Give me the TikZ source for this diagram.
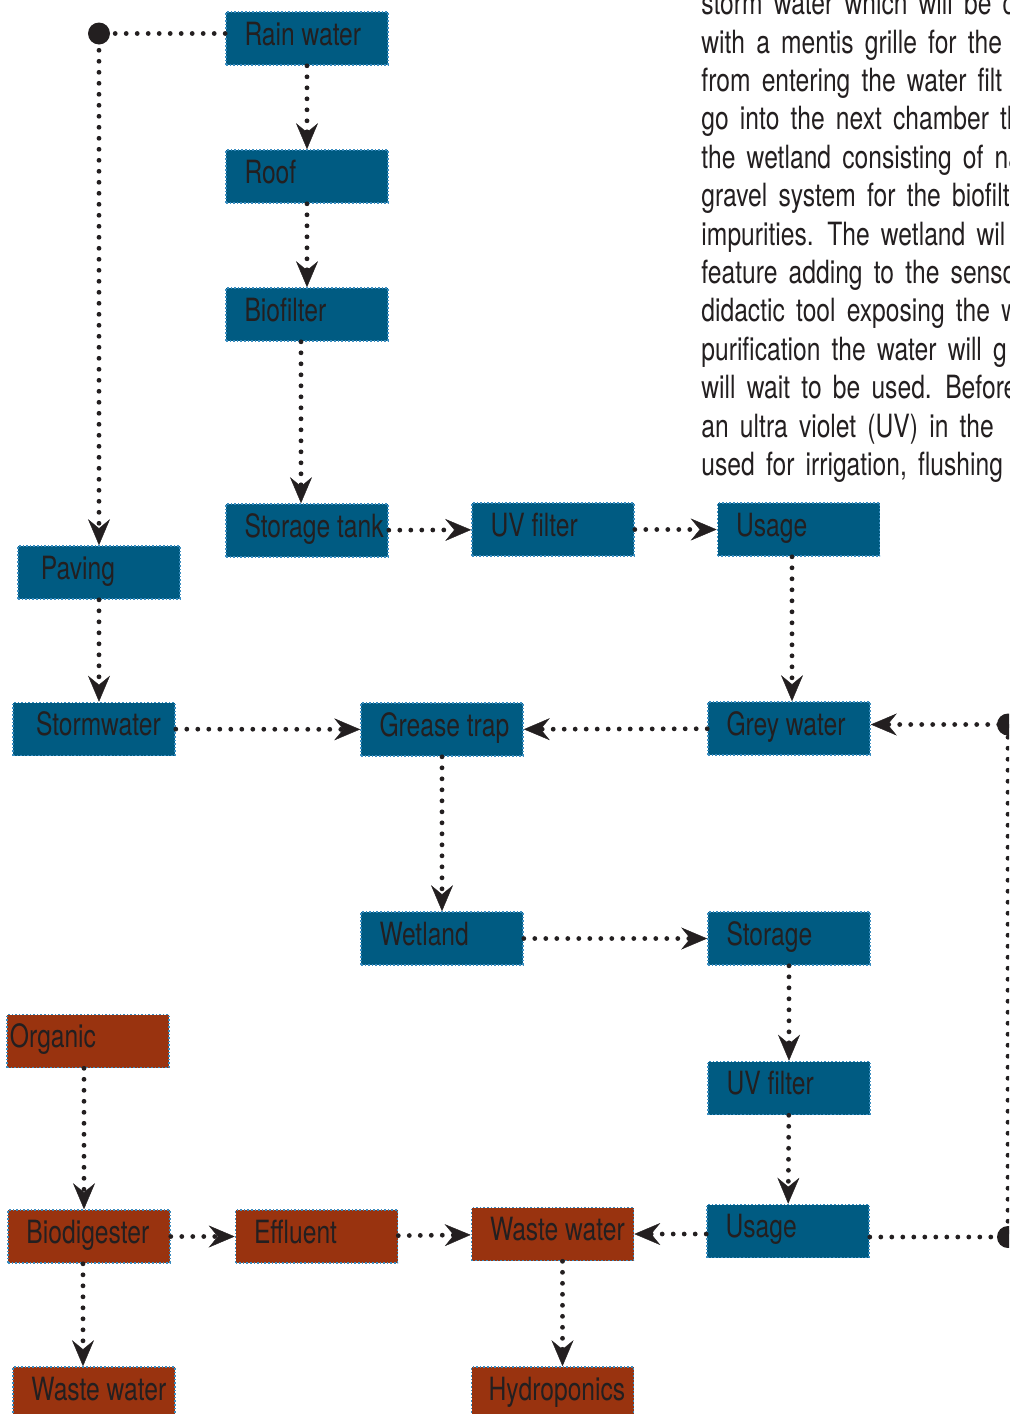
\documentclass[tikz,border=0pt]{standalone}
\usepackage{fontspec}
\setmainfont[FakeStretch=0.77]{TeX Gyre Heros}
\usetikzlibrary{arrows.meta}

\definecolor{waterblue}{HTML}{005B82}
\definecolor{wastered}{HTML}{99330F}
\definecolor{seam}{HTML}{3A8DC0}
\definecolor{ink}{HTML}{231F20}

% label inside a box: left indent, then the rest of the 81pt width
\newcommand{\boxtext}[2][9.25pt]{\hspace*{#1}\makebox[\dimexpr81pt-#1\relax][l]{#2}}

\begin{document}
\begin{tikzpicture}[x=0.5pt, y=-0.5pt, font=\fontsize{16}{19.2}\selectfont, text=ink]
\tikzstyle{waterbox} = [rectangle, fill=waterblue, draw=seam, densely dotted, line width=0.8pt, minimum width=81pt, minimum height=26.5pt, inner sep=0pt, text height=11pt, text depth=4.5pt]
\tikzstyle{wastebox} = [waterbox, fill=wastered]
\tikzstyle{pipe} = [draw=ink, line width=2.4pt, line cap=round, dash pattern=on 0pt off 5.5pt]
\tikzset{>={Stealth[length=13pt, width=11pt, inset=4.5pt, line width=0.2pt]}}

\path[use as bounding box] (0,0) rectangle (1009,1414);
\clip (0,0) rectangle (1009,1414);

% note text, cut off at the edge of the sheet
\foreach \words [count=\i from 0] in {storm water which will be c, with a mentis grille for the, from entering the water filt, go into the next chamber th, the wetland consisting of na, gravel system for the biofiltr, impurities. The wetland wil, feature adding to the senso, didactic tool exposing the w, purification the water will g, will wait to be used. Before, an ultra violet (UV) in the, {used for irrigation, flushing}}
  \node[anchor=base west, inner sep=0pt, execute at begin node={\spaceskip=5.6pt\relax}] (note\i) at (701, {14.6+38.4*\i}) {\words};

% rain water line
\node[waterbox] (rain) at (307,38.5) {\boxtext{Rain water}};
\node[waterbox] (roof) at (307,176.5) {\boxtext{Roof}};
\node[waterbox] (biofilter) at (307,314.5) {\boxtext{Biofilter}};
\node[waterbox] (tank) at (307,530.5) {\boxtext{Storage tank}};
\node[waterbox] (uvtop) at (553,529.5) {\boxtext{UV filter}};
\node[waterbox] (usagetop) at (798.5,529.5) {\boxtext{Usage}};

% storm and grey water
\node[waterbox] (paving) at (99,572.5) {\boxtext[11.5pt]{Paving}};
\node[waterbox] (storm) at (94,729) {\boxtext[11.5pt]{Stormwater}};
\node[waterbox] (grease) at (442,729.5) {\boxtext{Grease trap}};
\node[waterbox] (grey) at (789,728.5) {\boxtext{Grey water}};
\node[waterbox] (wetland) at (442,938.5) {\boxtext{Wetland}};
\node[waterbox] (storage) at (789,938.5) {\boxtext{Storage}};
\node[waterbox] (uvlow) at (789,1088) {\boxtext{UV filter}};
\node[waterbox] (usagelow) at (788,1231) {\boxtext{Usage}};

% organic waste
\node[wastebox] (organic) at (88,1041) {\boxtext[1.5pt]{Organic}};
\node[wastebox] (digester) at (89,1236.5) {\boxtext{Biodigester}};
\node[wastebox] (effluent) at (316.5,1236.5) {\boxtext{Effluent}};
\node[wastebox] (wastemid) at (552.5,1234) {\boxtext{Waste water}};
\node[wastebox] (wastelow) at (94,1393.5) {\boxtext{Waste water}};
\node[wastebox] (hydro) at (552.5,1393.5) {\boxtext[8.5pt]{Hydroponics}};

\coordinate (rim) at (1008,0);

\draw[pipe, ->] (rain) -- (roof);
\draw[pipe, ->] (roof) -- (biofilter);
\draw[pipe, ->] ([xshift=-3pt]biofilter.south) -- ([xshift=-3pt]tank.north);
\draw[pipe, ->] ([yshift=2.5pt]rain.west) -| (paving.north);
\fill[ink] ([yshift=2.5pt]rain.west -| paving.north) circle (5.5pt);
\draw[pipe, ->] (tank) -- (uvtop);
\draw[pipe, ->] (uvtop) -- (usagetop);
\draw[pipe, ->] ([xshift=1.5pt]grey.north |- usagetop.south) -- ([xshift=1.5pt]grey.north);

\draw[pipe, ->] (paving.south) -- (paving.south |- storm.north);
\draw[pipe, ->] (storm) -- (grease);
\draw[pipe, ->] (grey) -- (grease);
\draw[pipe, ->] (grease) -- (wetland);
\draw[pipe, ->] (wetland) -- (storage);
\draw[pipe, ->] (storage) -- (uvlow);
\draw[pipe, ->] (uvlow) -- (usagelow);
\draw[pipe, ->] (usagelow.west |- wastemid.east) -- (wastemid.east);
\draw[pipe, ->] ([yshift=-3pt]usagelow.east) -| ([yshift=2pt]rim |- grey.east) -- ([yshift=2pt]grey.east);
\fill[ink] ([yshift=-3pt]rim |- usagelow.east) circle (5.5pt);
\fill[ink] ([yshift=2pt]rim |- grey.east) circle (5.5pt);

\draw[pipe, ->] ([xshift=-2pt]organic.south) -- ([xshift=-2.5pt]digester.north);
\draw[pipe, ->] (digester) -- (effluent);
\draw[pipe, ->] (effluent) -- (wastemid);
\draw[pipe, ->] ([xshift=-3pt]digester.south) -- ([xshift=-3pt]digester.south |- wastelow.north);
\draw[pipe, ->] ([xshift=5pt]wastemid.south) -- ([xshift=5pt]hydro.north);

\end{tikzpicture}
\end{document}
